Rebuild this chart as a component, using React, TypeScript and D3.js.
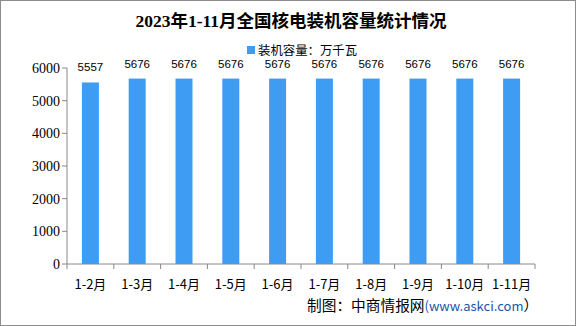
import React from "react";
import * as d3 from "d3";

const categories = ["1-2月", "1-3月", "1-4月", "1-5月", "1-6月", "1-7月", "1-8月", "1-9月", "1-10月", "1-11月"];
const values = [5557, 5676, 5676, 5676, 5676, 5676, 5676, 5676, 5676, 5676];
const yTicks = [0, 1000, 2000, 3000, 4000, 5000, 6000];
const title = "2023年1-11月全国核电装机容量统计情况";
const legendLabel = "装机容量：万千瓦";

const W = 576, H = 326;
const left = 67, right = 535, top = 68, bottom = 264;
const BAR = "#3e9cf3";
const AXIS = "#888888";
const CJK = "'Noto Sans CJK SC', sans-serif";
const SERIF = "'Liberation Serif', 'Noto Sans CJK SC', serif";

export default function App() {
  const x = d3.scaleBand<string>().domain(categories).range([left, right]).paddingInner(0).paddingOuter(0);
  const y = d3.scaleLinear().domain([0, 6000]).range([bottom, top]);
  const bw = 17;
  return (
    <svg width={W} height={H} style={{ position: "absolute", left: 0, top: 0 }}>
      <rect x={0.5} y={0.5} width={W - 1} height={H - 1} fill="#fff" stroke="#8c8c8c" />
      <text x={291} y={27} textAnchor="middle" fontFamily={SERIF} fontWeight="bold" fontSize={17.5} fill="#000">{title}</text>
      <rect x={247} y={46} width={8} height={8} fill={BAR} />
      <text x={258} y={54.5} fontFamily={CJK} fontSize={12.4} fill="#000">{legendLabel}</text>
      {yTicks.map(t => (
        <g key={t}>
          <line x1={left - 5} x2={left} y1={y(t)} y2={y(t)} stroke={AXIS} />
          <text x={left - 7} y={y(t) + 5} textAnchor="end" fontFamily={SERIF} fontSize={14} fill="#000">{t}</text>
        </g>
      ))}
      <line x1={left} x2={left} y1={top} y2={bottom} stroke={AXIS} />
      <line x1={left} x2={right} y1={bottom} y2={bottom} stroke={AXIS} />
      {categories.map((c, i) => (
        <line key={"t" + i} x1={x(c)!} x2={x(c)!} y1={bottom} y2={bottom + 5} stroke={AXIS} />
      ))}
      <line x1={right} x2={right} y1={bottom} y2={bottom + 5} stroke={AXIS} />
      {categories.map((c, i) => {
        const cx = x(c)! + x.bandwidth() / 2;
        return (
          <g key={c}>
            <rect x={cx - bw / 2} y={y(values[i])} width={bw} height={bottom - y(values[i])} fill={BAR} />
            <text x={cx} y={y(values[i]) - 11} textAnchor="middle" fontFamily="'Liberation Sans', sans-serif" fontSize={11.5} fill="#000">{values[i]}</text>
            <text x={cx} y={289} textAnchor="middle" fontFamily={CJK} fontSize={13} fill="#000">{c}</text>
          </g>
        );
      })}
      <text x={307} y={311} fontFamily={CJK} fontSize={14.7} fill="#000">
        制图：中商情报网<tspan fill="#1a56a6" fontSize={13}>(www.askci.com</tspan>）
      </text>
    </svg>
  );
}
